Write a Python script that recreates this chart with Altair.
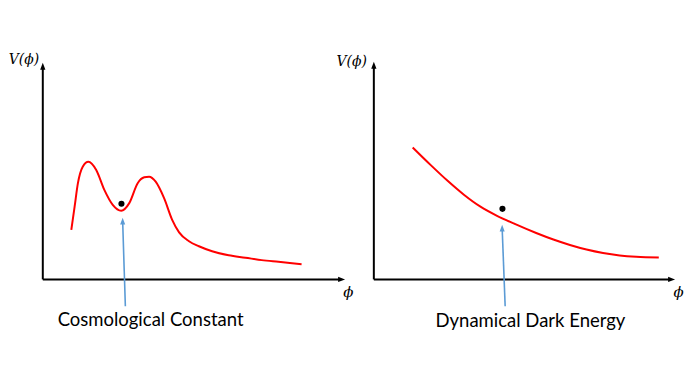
import altair as alt
import pandas as pd

# ---------------- data ----------------
# Left panel: potential with a local minimum (cosmological constant)
phi_cc = [0.95, 1.06, 1.17, 1.33, 1.52, 1.78, 2.05, 2.33, 2.61, 2.88, 3.16, 3.38,
          3.54, 3.76, 4.04, 4.31, 4.54, 4.87, 5.20, 5.64, 6.19, 6.75, 7.29, 7.85, 8.62]
V_cc = [2.29, 3.36, 4.44, 5.20, 5.43, 5.05, 4.13, 3.44, 3.17, 3.52, 4.44, 4.71,
        4.74, 4.51, 3.75, 2.75, 2.17, 1.76, 1.53, 1.30, 1.11, 1.00, 0.89, 0.81, 0.70]
ball_cc = (2.62, 3.49)

# Right panel: rolling potential (dynamical dark energy)
phi_dde = [1.29, 1.89, 2.44, 2.99, 3.54, 4.09, 4.64, 5.39, 5.96, 6.51, 7.06, 7.61,
           8.16, 8.71, 9.46]
V_dde = [6.06, 5.25, 4.54, 3.89, 3.34, 2.92, 2.57, 2.13, 1.83, 1.58, 1.37, 1.21,
         1.10, 1.04, 1.01]
ball_dde = (4.27, 3.24)

captions = ["Cosmological Constant", "Dynamical Dark Energy"]
y_label = "V(ϕ)"
x_label = "ϕ"

# ---------------- layout / annotation placement ----------------
H = 340
panels = [
    dict(width=352, xdom=[-1.159, 10.497], ydom=[-3.119, 12.477], xtip=10.07, ytip=10.0,
         arrow_tail=(2.75, -1.24), arrow_head=(2.66, 2.84),
         cap_pos=(3.59, -2.16), xlab_pos=(10.18, -0.57), ylab_pos=(-0.12, 10.12)),
    dict(width=326, xdom=[-0.528, 10.231], ydom=[-3.105, 12.42], xtip=10.0, ytip=10.0,
         arrow_tail=(4.36, -1.23), arrow_head=(4.26, 2.51),
         cap_pos=(5.20, -2.19), xlab_pos=(10.12, -0.59), ylab_pos=(-0.23, 10.0)),
]
curves = [(phi_cc, V_cc), (phi_dde, V_dde)]
balls = [ball_cc, ball_dde]

UP = "M0,0L0.75,2L-0.75,2Z"
RIGHT = "M0,0L-2,0.75L-2,-0.75Z"
BLUE = "#5B9BD5"


def make_panel(p, curve, ball, caption):
    xs = alt.Scale(domain=p["xdom"], nice=False, zero=False)
    ys = alt.Scale(domain=p["ydom"], nice=False, zero=False)

    def X(f="x"):
        return alt.X(f"{f}:Q", scale=xs, axis=None)

    def Y(f="y"):
        return alt.Y(f"{f}:Q", scale=ys, axis=None)

    axes_df = pd.DataFrame({
        "x": [0, 0], "y": [0, 0],
        "x2": [p["xtip"] - 0.15, 0], "y2": [0, p["ytip"] - 0.2],
    })
    axes = alt.Chart(axes_df).mark_rule(color="black", strokeWidth=2).encode(
        x=X(), y=Y(), x2="x2:Q", y2="y2:Q")

    heads_df = pd.DataFrame({"x": [p["xtip"], 0], "y": [0, p["ytip"]], "s": ["r", "u"]})
    head_r = alt.Chart(heads_df[heads_df.s == "r"]).mark_point(
        shape=RIGHT, filled=True, size=49, color="black", opacity=1).encode(x=X(), y=Y())
    head_u = alt.Chart(heads_df[heads_df.s == "u"]).mark_point(
        shape=UP, filled=True, size=49, color="black", opacity=1).encode(x=X(), y=Y())

    curve_df = pd.DataFrame({"x": curve[0], "y": curve[1]})
    line = alt.Chart(curve_df).mark_line(color="#FF0000", strokeWidth=2,
                                         interpolate="monotone").encode(x=X(), y=Y())

    ball_df = pd.DataFrame({"x": [ball[0]], "y": [ball[1]]})
    dot = alt.Chart(ball_df).mark_circle(color="black", size=38, opacity=1).encode(x=X(), y=Y())

    tx, ty = p["arrow_tail"]
    hx, hy = p["arrow_head"]
    arr_df = pd.DataFrame({"x": [tx], "y": [ty], "x2": [hx], "y2": [hy - 0.15]})
    arr = alt.Chart(arr_df).mark_rule(color=BLUE, strokeWidth=1.6).encode(
        x=X(), y=Y(), x2="x2:Q", y2="y2:Q")
    arr_head = alt.Chart(pd.DataFrame({"x": [hx], "y": [hy]})).mark_point(
        shape=UP, filled=True, size=46, color=BLUE, opacity=1).encode(x=X(), y=Y())

    cap = alt.Chart(pd.DataFrame({"x": [p["cap_pos"][0]], "y": [p["cap_pos"][1]], "t": [caption]})).mark_text(
        font="Lato", fontSize=18.6, color="black", align="center", baseline="alphabetic").encode(
        x=X(), y=Y(), text="t:N")
    xl = alt.Chart(pd.DataFrame({"x": [p["xlab_pos"][0]], "y": [p["xlab_pos"][1]], "t": [x_label]})).mark_text(
        font="DejaVu Serif", fontStyle="italic", fontSize=15, color="black",
        align="center", baseline="middle").encode(x=X(), y=Y(), text="t:N")
    yl = alt.Chart(pd.DataFrame({"x": [p["ylab_pos"][0]], "y": [p["ylab_pos"][1]], "t": [y_label]})).mark_text(
        font="DejaVu Serif", fontStyle="italic", fontSize=14, color="black",
        align="right", baseline="middle").encode(x=X(), y=Y(), text="t:N")

    return alt.layer(axes, head_r, head_u, line, dot, arr, arr_head, cap, xl, yl).properties(
        width=p["width"], height=H)


charts = [make_panel(panels[i], curves[i], balls[i], captions[i]) for i in range(2)]
chart = alt.hconcat(*charts, spacing=0, bounds="flush").properties(
    padding=0, background="white").configure_view(stroke=None)

chart.save("out.html", embed_options={"renderer": "svg", "actions": False})
